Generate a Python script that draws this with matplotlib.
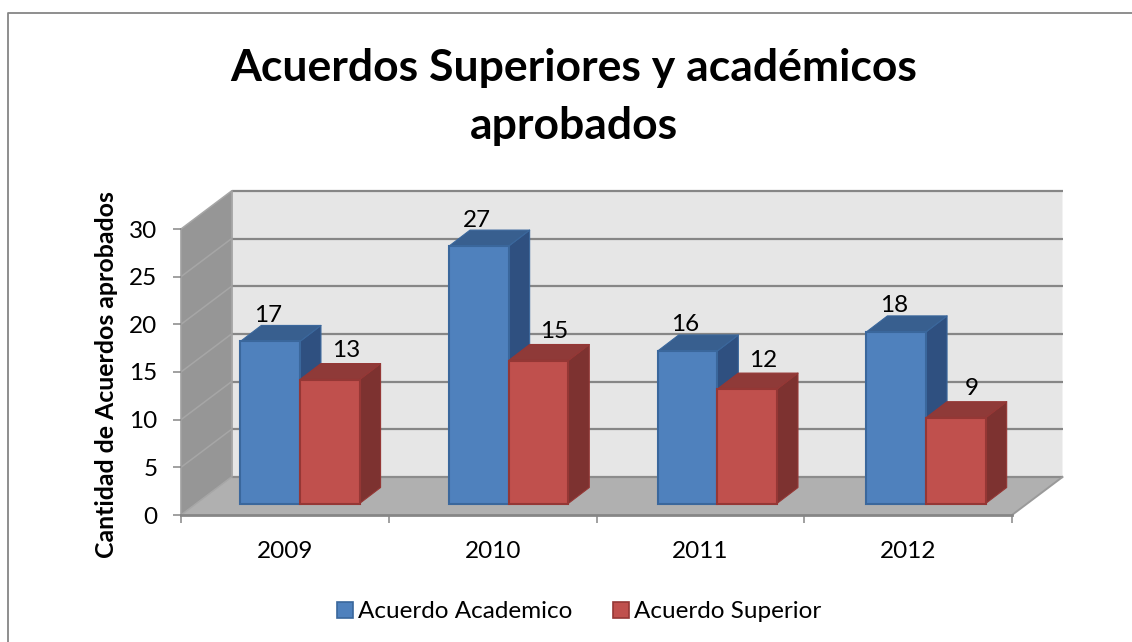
import matplotlib
matplotlib.use("Agg")
import matplotlib.pyplot as plt
from matplotlib.lines import Line2D
from matplotlib.patches import Patch, Polygon

plt.rcParams["font.family"] = ["Lato", "DejaVu Sans"]

# -------------------- Data --------------------
years = ["2009", "2010", "2011", "2012"]
academico = [17, 27, 16, 18]
superior = [13, 15, 12, 9]
y_ticks = [0, 5, 10, 15, 20, 25, 30]

# -------------------- Layout (pixels of the 1132x642 picture) --------------------
W, H = 1132, 642
LEFT, RIGHT, TOP, BOTTOM = 181, 1012, 229, 515
WALL_DX, WALL_DY = 50.5, 38     # depth of the chart box
BAR_DX, BAR_DY = 14.6, 11.5     # where the bars stand on the floor
DEPTH_DX, DEPTH_DY = 21, 16     # depth of a bar
BAR_W = 0.287
BAR_STEP = 208.7 / 207.75       # bars spread a little wider than the ticks
FONT = 17.5

GRAY = "#868686"
BLUE = ("#4f81bd", "#3a679c", "#385f8f", "#2f5080")   # front, edge, top, side
RED = ("#c0504d", "#953735", "#8f3a38", "#7d3230")

fig = plt.figure(figsize=(W / 100, H / 100), dpi=100)
ax = fig.add_axes([LEFT / W, 1 - BOTTOM / H, (RIGHT - LEFT) / W, (BOTTOM - TOP) / H])
ax.set_xlim(0, len(years))
ax.set_ylim(y_ticks[0], y_ticks[-1])

# pixels -> data units
ux = len(years) / (RIGHT - LEFT)
uy = y_ticks[-1] / (BOTTOM - TOP)
wx, wy = WALL_DX * ux, WALL_DY * uy
x_max, y_max = len(years), y_ticks[-1]

# -------------------- Walls and floor --------------------
def face(points, color, edge="none", lw=0, z=1):
    ax.add_patch(Polygon(points, closed=True, facecolor=color, edgecolor=edge,
                         linewidth=lw, clip_on=False, zorder=z, joinstyle="round"))

face([(0, 0), (wx, wy), (wx + x_max, wy), (wx + x_max, wy + y_max), (wx, wy + y_max)],
     "#e6e6e6", z=1)
face([(0, 0), (wx, wy), (wx, wy + y_max), (0, y_max)], "#969696", z=1.1)
face([(0, 0), (wx, wy), (wx + x_max, wy), (x_max, 0)], "#b0b0b0", z=1.2)

for t in y_ticks:
    ax.plot([wx, wx + x_max], [t + wy, t + wy], color=GRAY if t else "#8c8c8c", lw=1.6,
            clip_on=False, zorder=1.5, solid_capstyle="butt")
    ax.plot([0, wx], [t, t + wy], color="#a6a6a6", lw=1.1, clip_on=False, zorder=1.4)
ax.plot([wx, wx], [wy, wy + y_max], color="#a0a0a0", lw=1.2, clip_on=False, zorder=1.5)
ax.plot([0, 0], [0, y_max], color="#a0a0a0", lw=1.2, clip_on=False, zorder=1.5)
ax.plot([x_max, x_max + wx], [0, wy], color="#9a9a9a", lw=1.4, clip_on=False, zorder=1.5)

# -------------------- Bars --------------------
bx, by = BAR_DX * ux, BAR_DY * uy
dx, dy = DEPTH_DX * ux, DEPTH_DY * uy


def draw_bars(values, shift, colors, z, label_dx, label_dy):
    front, edge, top, side = colors
    for i, v in enumerate(values):
        x0 = (i + 0.5) * BAR_STEP + bx + shift
        x1 = x0 + BAR_W
        y1 = by + v
        face([(x1, by), (x1 + dx, by + dy), (x1 + dx, y1 + dy), (x1, y1)], side, edge, 0.8, z)
        face([(x0, y1), (x0 + dx, y1 + dy), (x1 + dx, y1 + dy), (x1, y1)], top, edge, 0.8, z)
        ax.bar(x0, v, BAR_W, bottom=by, align="edge", color=front, edgecolor=edge,
               linewidth=1.5, clip_on=False, zorder=z + 0.1)
        ax.text(x0 + BAR_W / 2 + label_dx * ux, y1 + label_dy * uy, str(v), ha="center",
                va="center", fontsize=FONT, color="black", zorder=10)


draw_bars(academico, -BAR_W, BLUE, 2, -2, 26)
draw_bars(superior, 0, RED, 3, 16, 29)

# -------------------- Axes --------------------
for name in ("top", "right"):
    ax.spines[name].set_visible(False)
ax.patch.set_visible(False)
ax.spines["left"].set_visible(False)
ax.spines["bottom"].set(color=GRAY, linewidth=2, zorder=6)

ax.set_yticks(y_ticks)
ax.tick_params(axis="y", length=6, width=1.1, color=GRAY, labelsize=FONT, pad=11)
ax.set_xticks(range(len(years) + 1))
ax.set_xticklabels([])
ax.tick_params(axis="x", which="major", length=6, width=1.1, color=GRAY)
ax.set_xticks([i + 0.5 for i in range(len(years))], minor=True)
ax.set_xticklabels(years, minor=True, fontsize=FONT)
ax.tick_params(axis="x", which="minor", length=0, pad=19)

ax.set_ylabel("Cantidad de Acuerdos aprobados", fontsize=17.9, fontweight="bold")
ax.yaxis.set_label_coords((118 - LEFT) / (RIGHT - LEFT), (BOTTOM - 375) / (BOTTOM - TOP))

fig.text(574 / W, 1 - 97 / H, "Acuerdos Superiores y académicos\naprobados", ha="center",
         va="center", fontsize=32, fontweight="bold", linespacing=1.55)

handles = [Patch(facecolor=BLUE[0], edgecolor=BLUE[1], linewidth=1.2),
           Patch(facecolor=RED[0], edgecolor=RED[1], linewidth=1.2)]
fig.legend(handles, ["Acuerdo Academico", "Acuerdo Superior"], ncol=2, frameon=False,
           fontsize=FONT, loc="center", bbox_to_anchor=(579 / W, 1 - 612 / H),
           handlelength=0.66, handleheight=0.66, handletextpad=0.2, columnspacing=1.65)

# chart frame, only left and top are visible in the crop
fig.add_artist(Line2D([8 / W, 8 / W, 1], [0, 1 - 13 / H, 1 - 13 / H], color=GRAY, lw=1.3,
                      transform=fig.transFigure))

fig.savefig("out.png", dpi=100)
